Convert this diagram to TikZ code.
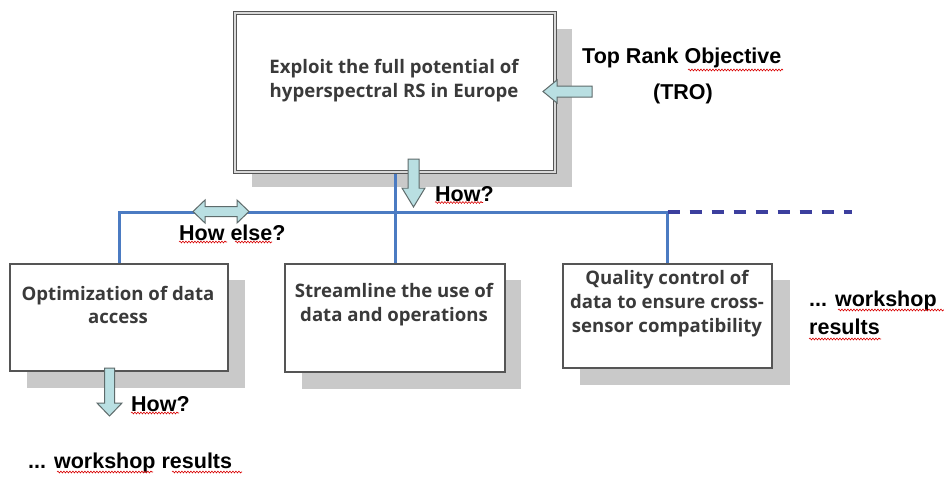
\documentclass[tikz,border=0pt]{standalone}
\usepackage{fontspec}
\setmainfont{Liberation Sans}
\newfontfamily\boxfont{Open Sans}
\usetikzlibrary{calc,decorations.pathmorphing}

\definecolor{boxline}{HTML}{555555}
\definecolor{boxtextc}{HTML}{3A3A3A}
\definecolor{shadowc}{HTML}{C9C9C9}
\definecolor{arrowfill}{HTML}{B9DFE2}
\definecolor{arrowline}{HTML}{5E6B6B}
\definecolor{busblue}{HTML}{4B7BC2}
\definecolor{dashblue}{HTML}{3C3F9E}

\tikzset{
  goalbox/.style={draw=boxline, line width=1.6pt, fill=white, inner sep=0pt},
  shadowbox/.style={fill=shadowc, draw=none, inner sep=0pt},
  boxlabel/.style={text=boxtextc, align=center, inner sep=0pt,
    font=\boxfont\bfseries\fontsize{18.6}{23.8}\selectfont},
  plainlabel/.style={text=black, inner sep=0pt, align=left,
    font=\bfseries\fontsize{21.5}{28}\selectfont},
  blockarrow/.style={fill=arrowfill, draw=arrowline, line width=1pt, line join=miter},
  busline/.style={draw=busblue, line width=3pt},
  busdash/.style={draw=dashblue, line width=3.2pt, dash pattern=on 12pt off 10pt},
  spellmark/.style={draw=red!85!black, line width=0.6pt,
    decorate, decoration={snake, segment length=3pt, amplitude=0.9pt}}
}

\begin{document}
\begin{tikzpicture}[x=1pt,y=-1pt]
\useasboundingbox (0,0) rectangle (944,477);
\fill[white] (0,0) rectangle (944,477);

% ---- drop shadows
\node[shadowbox, minimum width=320pt, minimum height=158pt] (troshadow) at (412,108) {};
\node[shadowbox, minimum width=218pt, minimum height=108pt] (optshadow) at (136,334) {};
\node[shadowbox, minimum width=219pt, minimum height=109pt] (strshadow) at (411.5,334.5) {};
\node[shadowbox, minimum width=210pt, minimum height=105pt] (qcshadow) at (685,332.5) {};

% ---- blue bus connecting the goal tree
\coordinate (busend) at (852,212);
\node[goalbox, draw=none, minimum width=218pt, minimum height=107pt] (opt) at (119,317.5) {};
\node[goalbox, draw=none, minimum width=220pt, minimum height=108pt] (str) at (395,318) {};
\node[goalbox, draw=none, minimum width=209pt, minimum height=104pt] (qc) at (667.5,316) {};
\node[goalbox, draw=none, minimum width=320pt, minimum height=159pt] (tro) at (395,92.5) {};
\draw[busline] (tro.south) -- (str.north);
\draw[busline] (opt.north) |- (qc.north |- busend) -- (qc.north);
\draw[busdash] (qc.north |- busend) -- (busend);

% ---- boxes
\node[goalbox, minimum width=320pt, minimum height=159pt, double=shadowc!70!white, double distance=1.6pt, line width=1.2pt] (trobox) at (395,92.5) {};
\node[goalbox, minimum width=218pt, minimum height=107pt] (optbox) at (119,317.5) {};
\node[goalbox, minimum width=220pt, minimum height=108pt] (strbox) at (395,318) {};
\node[goalbox, minimum width=209pt, minimum height=104pt] (qcbox) at (667.5,316) {};

\node[boxlabel] (trotext) at (394,81) {Exploit the full potential of\\hyperspectral RS in Europe};
\node[boxlabel] (opttext) at (118,305) {Optimization of data\\access};
\node[boxlabel] (strtext) at (394,305) {Streamline the use of\\data and operations};
\node[boxlabel] (qctext) at (667,303.5) {Quality control of\\data to ensure cross-\\sensor compatibility};

% ---- block arrows
\coordinate (troarrow) at (543,91.5);
\draw[blockarrow] (troarrow) -- ++(14,-11.5) -- ++(0,6) -- ++(35,0) -- ++(0,11) -- ++(-35,0) -- ++(0,6) -- cycle;

\coordinate (howtip) at (413.5,207);
\draw[blockarrow] (howtip) -- ++(-11.5,-19) -- ++(6,0) -- ++(0,-29) -- ++(11,0) -- ++(0,29) -- ++(6,0) -- cycle;

\coordinate (howtwotip) at (109.5,416);
\draw[blockarrow] (howtwotip) -- ++(-12.5,-13) -- ++(7.5,0) -- ++(0,-35) -- ++(10,0) -- ++(0,35) -- ++(7.5,0) -- cycle;

\coordinate (elseleft) at (193,211.5);
\draw[blockarrow] (elseleft) -- ++(12,-11.5) -- ++(0,6.5) -- ++(32,0) -- ++(0,-6.5) -- ++(12,11.5)
  -- ++(-12,11.5) -- ++(0,-6.5) -- ++(-32,0) -- ++(0,6.5) -- cycle;

% ---- labels
\node[plainlabel, anchor=west] (trolabel) at (582,58) {Top Rank Objective};
\node[plainlabel] (trolabeltwo) at (683,94) {(TRO)};
\node[plainlabel, anchor=west] (howlabel) at (435,194) {How?};
\node[plainlabel, anchor=west] (elselabel) at (179,233) {How else?};
\node[plainlabel, anchor=west] (howlabeltwo) at (131,404) {How?};
\node[plainlabel, anchor=west] (resultsleft) at (28,463) {... workshop results};
\node[plainlabel, anchor=north west] (resultsright) at (809,291) {... workshop\\results};

% ---- proofing marks under words
\draw[spellmark] (688,70) -- (783,70);
\draw[spellmark] (435,202.5) -- (483,202.5);
\draw[spellmark] (179,242) -- (227,242);
\draw[spellmark] (235,242) -- (272,242);
\draw[spellmark] (131,413) -- (179,413);
\draw[spellmark] (57,472) -- (153,472);
\draw[spellmark] (172,472) -- (242,472);
\draw[spellmark] (838,310) -- (944,310);
\draw[spellmark] (809,339) -- (881,339);
\end{tikzpicture}
\end{document}
